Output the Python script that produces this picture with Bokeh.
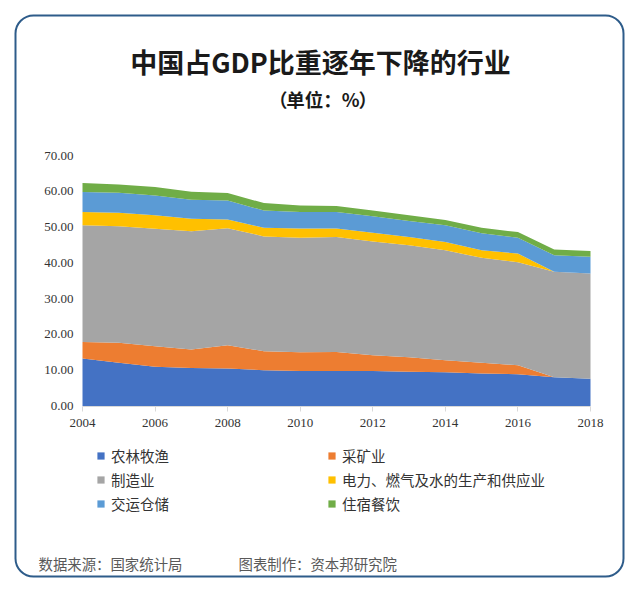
from bokeh.plotting import figure
from bokeh.models import (ColumnDataSource, Range1d, FixedTicker, NumeralTickFormatter,
                          Legend, LegendItem, Label, BoxAnnotation, LinearAxis)
from bokeh.transform import stack
from bokeh.embed import file_html
from bokeh.resources import INLINE

# ---- data (share of GDP, %) ----
years = list(range(2004, 2019))
agri = [13.3, 12.1, 11.0, 10.6, 10.5, 10.0, 9.8, 9.8, 9.8, 9.6, 9.4, 9.1, 8.9, 8.0, 7.6]
mining = [4.6, 5.6, 5.7, 5.2, 6.5, 5.3, 5.2, 5.3, 4.4, 4.0, 3.4, 3.0, 2.5, 0.0, 0.0]
manuf = [32.6, 32.5, 32.8, 33.0, 32.7, 32.1, 32.0, 32.1, 31.8, 31.3, 30.7, 29.3, 28.8, 29.5, 29.4]
util = [3.7, 3.8, 3.8, 3.5, 2.4, 2.4, 2.6, 2.4, 2.4, 2.3, 2.3, 2.1, 2.4, 0.0, 0.0]
transport = [5.6, 5.6, 5.5, 5.3, 5.3, 4.8, 4.6, 4.6, 4.6, 4.5, 4.7, 4.8, 4.4, 4.6, 4.7]
hotel = [2.5, 2.3, 2.4, 2.3, 2.1, 2.1, 1.8, 1.7, 1.6, 1.6, 1.5, 1.5, 1.6, 1.6, 1.6]

series_keys = ["agri", "mining", "manuf", "util", "transport", "hotel"]
series_names = ["农林牧渔", "采矿业", "制造业", "电力、燃气及水的生产和供应业", "交运仓储", "住宿餐饮"]
colors = ["#4472C4", "#ED7D31", "#A5A5A5", "#FFC000", "#5B9BD5", "#70AD47"]
x_ticks = [2004, 2006, 2008, 2010, 2012, 2014, 2016, 2018]
y_ticks = [0, 10, 20, 30, 40, 50, 60, 70]
x_min, x_max = 2004, 2018
y_min, y_max = 0, 70

title_text = "中国占GDP比重逐年下降的行业"
sub_open, subtitle_text, sub_close = "（", "单位：%", "）"
source_text = "数据来源：国家统计局"
maker_text = "图表制作：资本邦研究院"

# ---- layout: canvas size and pixel box of the plotting area ----
W, H = 640, 592
AX_L, AX_R = 82.0, 590.0      # canvas px of x_min / x_max
AX_T, AX_B = 155.0, 405.5     # canvas px (from top) of y_max / y_min
kx = (AX_R - AX_L) / (x_max - x_min)
ky = (AX_B - AX_T) / (y_max - y_min)
x_start = x_min - AX_L / kx
x_end = x_max + (W - AX_R) / kx
y_end = y_max + AX_T / ky
y_start = y_min - (H - AX_B) / ky


def dx(px):
    return x_start + px / kx


def dy(py):
    return y_end - py / ky


src = ColumnDataSource(dict(year=years, agri=agri, mining=mining, manuf=manuf,
                            util=util, transport=transport, hotel=hotel))

p = figure(width=W, height=H, output_backend="svg", toolbar_location=None,
           x_range=Range1d(x_start, x_end), y_range=Range1d(y_start, y_end),
           x_axis_type=None, y_axis_type=None,
           min_border=0, min_border_left=0, min_border_right=0,
           min_border_top=0, min_border_bottom=0)
p.background_fill_color = "white"
p.border_fill_color = "white"
p.outline_line_color = None
p.grid.visible = False

renderers = []
for i, (k, c) in enumerate(zip(series_keys, colors)):
    y1 = stack(*series_keys[:i]) if i > 0 else 0
    r = p.varea(x="year", y1=y1, y2=stack(*series_keys[:i + 1]), source=src,
                fill_color=c, fill_alpha=1.0)
    renderers.append(r)

# axes (fixed inside the canvas-wide frame)
xa = LinearAxis(fixed_location=y_min, bounds=(x_min, x_max))
xa.ticker = FixedTicker(ticks=x_ticks)
xa.axis_line_color = "#D9D9D9"
xa.major_tick_line_color = "#D9D9D9"
xa.major_tick_out = 5
xa.major_tick_in = 0
xa.minor_tick_line_color = None
xa.major_label_standoff = 8
xa.major_label_text_font = "Liberation Serif"
xa.major_label_text_font_size = "13px"
xa.major_label_text_color = "#333333"
p.add_layout(xa, "below")

ya = LinearAxis(fixed_location=x_min, bounds=(y_min, y_max))
ya.ticker = FixedTicker(ticks=y_ticks)
ya.formatter = NumeralTickFormatter(format="0.00")
ya.axis_line_color = None
ya.major_tick_line_color = None
ya.minor_tick_line_color = None
ya.major_tick_out = 0
ya.major_tick_in = 0
ya.major_label_standoff = 9
ya.major_label_text_font = "Liberation Serif"
ya.major_label_text_font_size = "13px"
ya.major_label_text_color = "#333333"
p.add_layout(ya, "left")

# legend
items = [LegendItem(label=n, renderers=[r]) for n, r in zip(series_names, renderers)]
legend = Legend(items=items, location=(96, 77), orientation="horizontal", ncols=2,
                glyph_width=9, glyph_height=9, label_standoff=6, label_width=216,
                label_height=24, spacing=0, padding=0, margin=0,
                label_text_font="Noto Sans CJK SC", label_text_font_size="14.5px",
                label_text_color="#333333", background_fill_alpha=0,
                border_line_color=None)
p.add_layout(legend, "center")

# titles and notes
p.add_layout(Label(x=dx(320), y=dy(61), text=title_text,
                   text_align="center", text_baseline="middle", text_font="Noto Sans CJK SC",
                   text_font_style="bold", text_font_size="27px", text_color="#1a1a1a"))
sub_style = dict(text_baseline="middle", text_font="Noto Sans CJK SC",
                 text_font_style="bold", text_font_size="18.5px", text_color="#1a1a1a")
p.add_layout(Label(x=dx(322.5), y=dy(98.5), text=subtitle_text, text_align="center", **sub_style))
p.add_layout(Label(x=dx(287), y=dy(98.5), text=sub_open, text_align="right", **sub_style))
p.add_layout(Label(x=dx(358), y=dy(98.5), text=sub_close, text_align="left", **sub_style))
p.add_layout(Label(x=dx(38), y=dy(563), text=source_text,
                   text_align="left", text_baseline="middle", text_font="Noto Sans CJK SC",
                   text_font_size="14.4px", text_color="#595959"))
p.add_layout(Label(x=dx(238), y=dy(563), text=maker_text,
                   text_align="left", text_baseline="middle", text_font="Noto Sans CJK SC",
                   text_font_size="14.4px", text_color="#595959"))

# rounded frame
p.add_layout(BoxAnnotation(left=dx(15), right=dx(623), top=dy(15), bottom=dy(576),
                           fill_alpha=0, line_color="#2E5C8A", line_alpha=1.0, line_width=2,
                           border_radius=18, level="overlay"))

open("out.html", "w").write(file_html(p, INLINE))
